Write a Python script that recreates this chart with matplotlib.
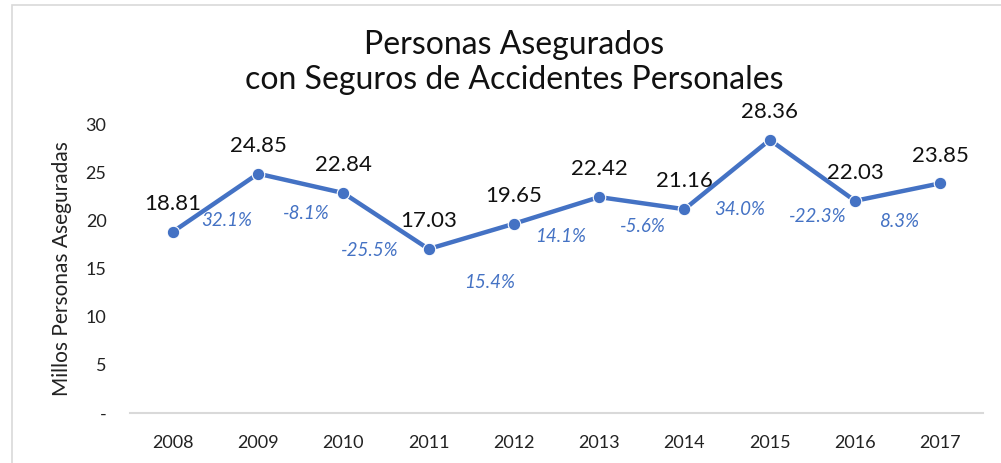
import matplotlib
matplotlib.use('Agg')
import matplotlib.pyplot as plt
from matplotlib.patches import Rectangle

years = ['2008', '2009', '2010', '2011', '2012', '2013', '2014', '2015', '2016', '2017']
asegurados = [18.81, 24.85, 22.84, 17.03, 19.65, 22.42, 21.16, 28.36, 22.03, 23.85]
variacion = ['32.1%', '-8.1%', '-25.5%', '15.4%', '14.1%', '-5.6%', '34.0%', '-22.3%', '8.3%']

blue = '#4472C4'
plt.rcParams['font.family'] = ['Lato', 'DejaVu Sans']

fig = plt.figure(figsize=(10.01, 4.63), dpi=100)
ax = fig.add_axes([0.130, 0.108, 0.852, 0.624])

# frame around the chart area
fig.patches.append(Rectangle((12 / 1001, -0.1), 1.1, 1.1 - 5 / 463, transform=fig.transFigure,
                             fill=False, edgecolor='#D9D9D9', lw=1.2))

x = list(range(len(years)))
ax.plot(x, asegurados, color=blue, lw=3.2, marker='o', ms=9,
        markeredgecolor='white', markeredgewidth=0.8, solid_capstyle='round', zorder=3)

for i, v in enumerate(asegurados):
    ax.annotate(f'{v:.2f}', (i, v), xytext=(0, 20), textcoords='offset points',
                ha='center', va='center', fontsize=16, color='#111111')

# offsets of the growth labels from the segment midpoints (points)
offs = [(8, -13), (4, -22), (-12, -21), (13, -33), (3, -19), (1, -17), (9, -25), (4, -33), (1, -21)]
for i, lab in enumerate(variacion):
    mx = i + 0.5
    my = (asegurados[i] + asegurados[i + 1]) / 2
    ax.annotate(lab, (mx, my), xytext=offs[i], textcoords='offset points',
                ha='center', va='center', fontsize=13.5, style='italic', color=blue)

ax.set_xlim(-0.5, 9.5)
ax.set_ylim(0, 30)
ax.set_xticks(x)
ax.set_xticklabels(years)
ax.set_yticks([0, 5, 10, 15, 20, 25, 30])
ax.set_yticklabels(['-', '5', '10', '15', '20', '25', '30'])
ax.tick_params(axis='both', length=0, labelsize=13, colors='#222222')
ax.tick_params(axis='x', pad=16, labelsize=13)
ax.tick_params(axis='y', pad=17)

for s in ['top', 'right', 'left']:
    ax.spines[s].set_visible(False)
ax.spines['bottom'].set_color('#D9D9D9')
ax.spines['bottom'].set_linewidth(1.5)

ax.set_ylabel('Millos Personas Aseguradas', fontsize=15, color='#222222', labelpad=10)

fig.text(0.514, 1 - 45 / 463, 'Personas Asegurados', ha='center', va='center', fontsize=23, color='#111111')
fig.text(0.514, 1 - 80 / 463, 'con Seguros de Accidentes Personales', ha='center', va='center',
         fontsize=23, color='#111111')

plt.savefig('out.png', dpi=100)
